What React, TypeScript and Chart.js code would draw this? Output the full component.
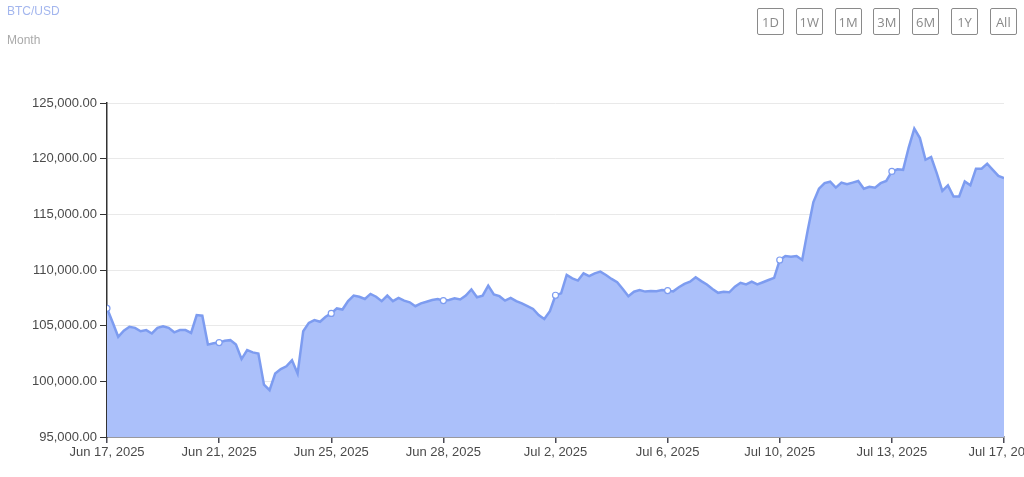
import React, { useEffect, useRef } from "react";
import { Chart, registerables } from "chart.js";

Chart.register(...registerables);

// BTC/USD price samples, evenly spaced from Jun 17, 2025 to Jul 17, 2025
const prices: number[] = [
  106560, 105300, 104000, 104550, 104900, 104800, 104500, 104600, 104300, 104800,
  104950, 104800, 104400, 104600, 104600, 104350, 105950, 105900, 103300, 103420,
  103480, 103650, 103700, 103300, 102000, 102800, 102600, 102500, 99700, 99200,
  100700, 101100, 101350, 101900, 100700, 104500, 105250, 105500, 105350, 105800,
  106100, 106550, 106450, 107200, 107700, 107600, 107400, 107850, 107600, 107200,
  107700, 107200, 107500, 107250, 107100, 106750, 107000, 107150, 107300, 107400,
  107250, 107300, 107450, 107350, 107700, 108250, 107550, 107700, 108600, 107800,
  107650, 107250, 107500, 107200, 107000, 106750, 106500, 105950, 105600, 106300,
  107730, 107900, 109550, 109250, 109050, 109700, 109450, 109700, 109850, 109550,
  109200, 108900, 108300, 107650, 108050, 108200, 108060, 108110, 108100, 108200,
  108150, 108080, 108450, 108750, 108950, 109350, 109000, 108700, 108300, 107950,
  108050, 108000, 108500, 108850, 108700, 108950, 108700, 108900, 109100, 109300,
  110900, 111250, 111200, 111250, 110900, 113600, 116100, 117300, 117800, 117930,
  117400, 117850, 117700, 117850, 118000, 117300, 117480, 117400, 117800, 118000,
  118850, 119050, 119000, 121000, 122700, 121850, 119900, 120150, 118700, 117100,
  117600, 116600, 116600, 117950, 117600, 119100, 119100, 119550, 119000, 118450,
  118250,
];

const tickLabels: string[] = [
  "Jun 17, 2025", "Jun 21, 2025", "Jun 25, 2025", "Jun 28, 2025", "Jul 2, 2025",
  "Jul 6, 2025", "Jul 10, 2025", "Jul 13, 2025", "Jul 17, 2025",
];

const rangeButtons: string[] = ["1D", "1W", "1M", "3M", "6M", "1Y", "All"];

const yMin = 95000;
const yMax = 125000;
const yStep = 5000;
const tickEvery = 20;

const fmt = new Intl.NumberFormat("en-US", { minimumFractionDigits: 2, maximumFractionDigits: 2 });

export default function App() {
  const ref = useRef<HTMLCanvasElement | null>(null);

  useEffect(() => {
    if (!ref.current) return;
    const lineColor = "#7d9cf0";
    const chart = new Chart(ref.current, {
      type: "line",
      data: {
        datasets: [
          {
            data: prices.map((y, i) => ({ x: i, y })),
            borderColor: lineColor,
            backgroundColor: "#abc0fa",
            borderWidth: 2.5,
            fill: "start",
            tension: 0,
            pointRadius: (ctx: any) =>
              ctx.dataIndex % tickEvery === 0 && ctx.dataIndex < prices.length - 1 ? 3 : 0,
            pointBackgroundColor: "#ffffff",
            pointBorderColor: lineColor,
            pointBorderWidth: 1.2,
          },
        ],
      },
      options: {
        animation: false,
        responsive: false,
        devicePixelRatio: 1,
        layout: { padding: { top: 103, right: 20, left: 0, bottom: 0 } },
        plugins: { legend: { display: false }, tooltip: { enabled: false } },
        scales: {
          x: {
            type: "linear",
            min: 0,
            max: prices.length - 1,
            afterFit: (s: any) => {
              s.height = 40;
              s.paddingRight = 0;
              s.paddingLeft = 0;
            },
            ticks: {
              stepSize: tickEvery,
              autoSkip: false,
              maxRotation: 0,
              padding: 2,
              color: "#4a4a4a",
              font: { family: "'Liberation Sans', Arial, sans-serif", size: 13 },
              callback: (v: any) => {
                const k = Number(v) / tickEvery;
                return Number.isInteger(k) ? tickLabels[k] : null;
              },
            },
            grid: { drawOnChartArea: false, tickLength: 6, tickColor: "#4a4a55", lineWidth: 1.5 },
            border: { color: "#4a4a55", width: 1.5 },
          },
          y: {
            min: yMin,
            max: yMax,
            afterFit: (s: any) => {
              s.width = 107;
            },
            ticks: {
              stepSize: yStep,
              padding: 3,
              color: "#4a4a4a",
              font: { family: "'Liberation Sans', Arial, sans-serif", size: 13 },
              callback: (v: any) => fmt.format(Number(v)),
            },
            grid: { color: "#e9e9e9", tickLength: 7, tickColor: "#333", lineWidth: 1 },
            border: { color: "#333", width: 1.5 },
          },
        },
      },
    });
    return () => chart.destroy();
  }, []);

  return (
    <div
      style={{
        position: "absolute",
        left: 0,
        top: 0,
        width: 1024,
        height: 477,
        overflow: "hidden",
        background: "#fff",
        fontFamily: "'Liberation Sans', Arial, sans-serif",
      }}
    >
      <canvas ref={ref} width={1024} height={477} style={{ position: "absolute", left: 0, top: 0 }} />
      <div style={{ position: "absolute", left: 7, top: 4, fontSize: 12, color: "#a3b6ee" }}>BTC/USD</div>
      <div style={{ position: "absolute", left: 7, top: 33, fontSize: 12, color: "#aaaaaa" }}>Month</div>
      {rangeButtons.map((b, i) => (
        <div
          key={b}
          style={{
            position: "absolute",
            left: 757 + i * 38.8,
            top: 8,
            width: 27,
            height: 27,
            boxSizing: "border-box",
            border: "1.5px solid #8a8a8a",
            borderRadius: 2,
            color: "#8a8a8a",
            fontFamily: "'Open Sans', sans-serif",
            fontSize: 13,
            display: "flex",
            alignItems: "center",
            justifyContent: "center",
          }}
        >
          {b}
        </div>
      ))}
    </div>
  );
}
